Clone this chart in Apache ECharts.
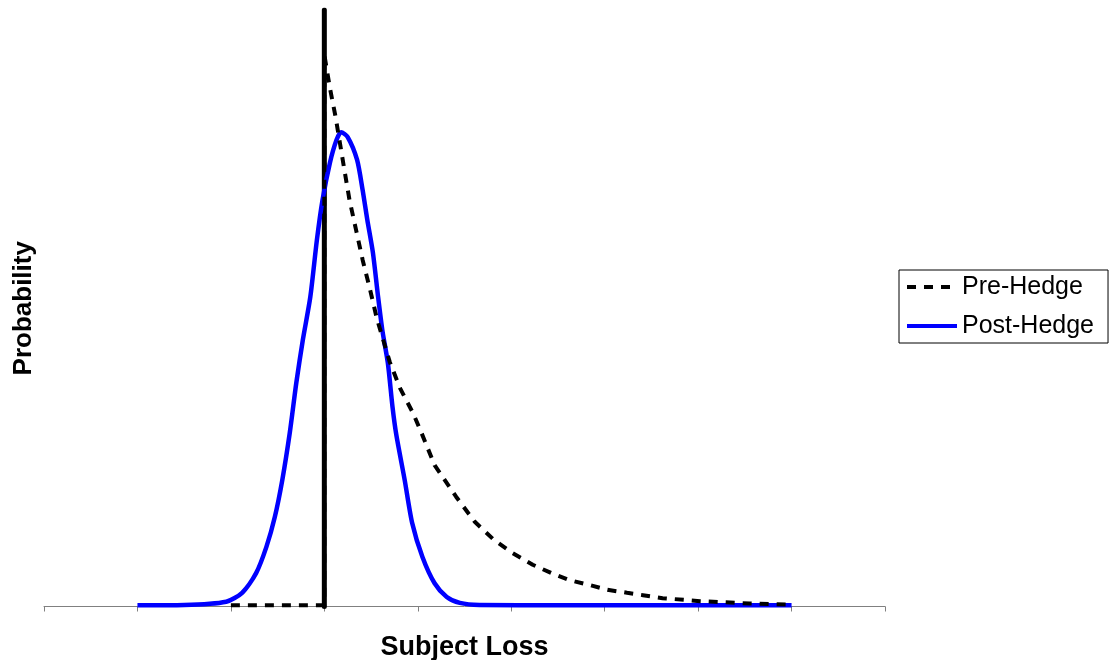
<!DOCTYPE html>
<html>
<head>
<meta charset="utf-8">
<script src="https://cdn.jsdelivr.net/npm/echarts@6/dist/echarts.min.js"></script>
<style>
html,body{margin:0;padding:0;background:#fff;}
#chart{width:1109px;height:660px;}
</style>
</head>
<body>
<div id="chart"></div>
<script>
// Subject loss (x, in axis units 0..9) and probability (y, 0..100 relative)
const seriesNames = ['Pre-Hedge', 'Post-Hedge'];
const xAxisName = 'Subject Loss';
const yAxisName = 'Probability';

const preX = [2.0, 3.0, 3.0, 3.06, 3.12, 3.17, 3.22, 3.27, 3.34, 3.41, 3.49, 3.56, 3.70, 3.81, 3.95, 4.04, 4.18, 4.41, 4.61, 4.82, 5.01, 5.23, 5.43, 5.63, 5.84, 6.03, 6.24, 6.41, 6.62, 7.02, 7.55, 8.0];
const preY = [0.2, 0.2, 92.5, 86.9, 82.1, 77.4, 72.7, 68.1, 63.1, 58.1, 53.1, 48.4, 41.0, 36.6, 32.4, 29.1, 23.7, 18.4, 14.2, 11.1, 9.0, 7.0, 5.6, 4.4, 3.6, 2.8, 2.3, 1.9, 1.4, 0.9, 0.5, 0.3];

const postX = [1.0, 1.5, 1.95, 2.12, 2.27, 2.38, 2.47, 2.55, 2.63, 2.70, 2.77, 2.85, 2.92, 2.98, 3.06, 3.13, 3.18, 3.25, 3.35, 3.41, 3.46, 3.52, 3.57, 3.62, 3.68, 3.73, 3.77, 3.86, 3.94, 4.05, 4.18, 4.31, 4.45, 4.66, 5.5, 6.5, 8.0];
const postY = [0.2, 0.25, 0.8, 2.3, 5.6, 10.0, 15.0, 21.2, 29.1, 37.5, 44.7, 51.9, 61.4, 68.1, 74.4, 78.2, 79.5, 78.7, 74.9, 69.8, 64.8, 59.3, 52.6, 46.4, 40.8, 33.4, 28.8, 21.2, 14.0, 8.3, 3.9, 1.6, 0.6, 0.25, 0.2, 0.2, 0.2];

// vertical reference line (expected loss)
const refX = [3.0, 3.0];
const refY = [0, 100];

const zip = (a, b) => a.map((v, i) => [v, b[i]]);

const chart = echarts.init(document.getElementById('chart'), null, {renderer: 'canvas'});
chart.setOption({
  animation: false,
  backgroundColor: '#ffffff',
  grid: {left: 44, right: 224, top: 10, bottom: 53.5, containLabel: false, outerBoundsMode: 'none'},
  legend: {
    data: seriesNames,
    orient: 'vertical',
    left: 899,
    top: 270,
    padding: [2, 14, 2, 6],
    itemGap: 9,
    itemWidth: 50,
    itemHeight: 14,
    borderColor: '#000',
    borderWidth: 1,
    backgroundColor: '#fff',
    itemStyle: {opacity: 0},
    lineStyle: {width: 4},
    textStyle: {fontFamily: 'Liberation Sans, Arial, sans-serif', fontSize: 25, color: '#000', lineHeight: 30}
  },
  xAxis: {
    type: 'value', min: 0, max: 9, interval: 1,
    name: xAxisName, nameLocation: 'middle', nameGap: 28,
    nameTextStyle: {fontFamily: 'Liberation Sans, Arial, sans-serif', fontSize: 27, fontWeight: 'bold', color: '#000'},
    axisLine: {show: true, lineStyle: {color: '#808080', width: 1}},
    axisTick: {show: true, length: 5, lineStyle: {color: '#808080', width: 1}},
    axisLabel: {show: false},
    splitLine: {show: false}
  },
  yAxis: {
    type: 'value', min: 0, max: 100,
    name: yAxisName, nameLocation: 'middle', nameGap: 7, nameRotate: 90,
    nameTextStyle: {fontFamily: 'Liberation Sans, Arial, sans-serif', fontSize: 26, fontWeight: 'bold', color: '#000'},
    axisLine: {show: false}, axisTick: {show: false}, axisLabel: {show: false}, splitLine: {show: false}
  },
  series: [
    {
      name: 'ref', type: 'line', data: zip(refX, refY), symbol: 'none', z: 2,
      lineStyle: {color: '#000', width: 5, cap: 'round'}, silent: true
    },
    {
      name: seriesNames[1], type: 'line', data: zip(postX, postY), symbol: 'none', showSymbol: false, z: 3,
      smooth: 0.25,
      lineStyle: {color: '#0000ff', width: 4.5, join: 'round'},
      itemStyle: {color: '#0000ff'}
    },
    {
      name: seriesNames[0], type: 'line', data: zip(preX, preY), symbol: 'none', showSymbol: false, z: 4,
      lineStyle: {color: '#000', width: 4, type: [9, 8]},
      itemStyle: {color: '#000'}
    }
  ]
});
</script>
</body>
</html>
